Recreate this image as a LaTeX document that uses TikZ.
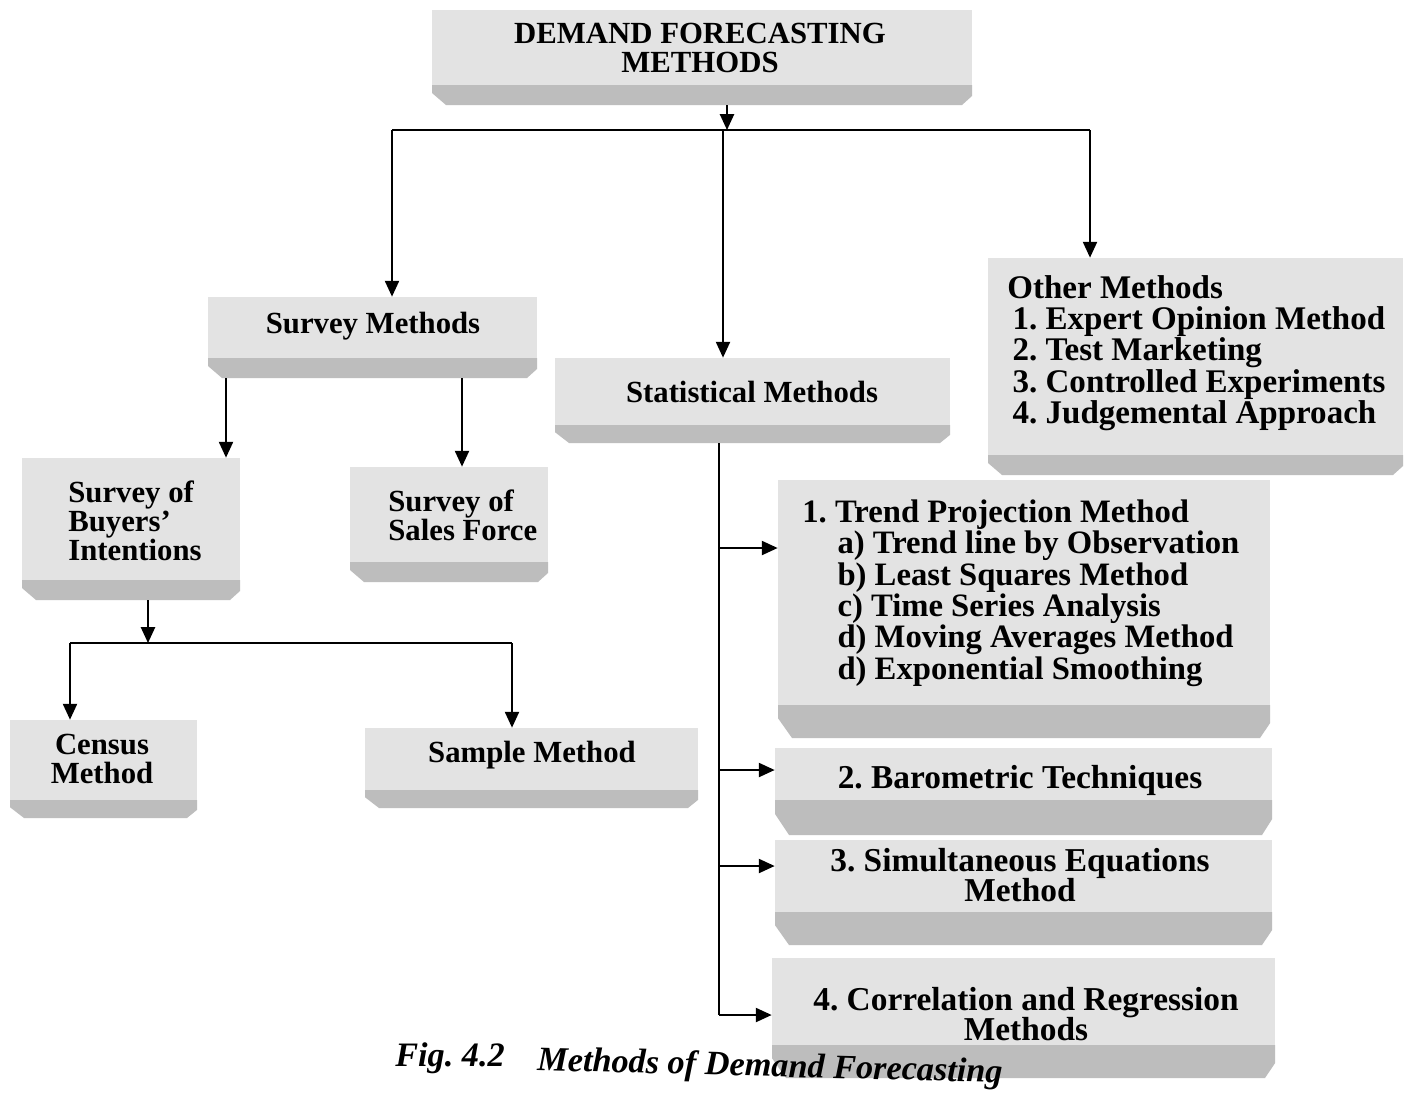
\documentclass[tikz,border=0pt]{standalone}
\usepackage{fontspec}
\setmainfont{Liberation Serif}
\usetikzlibrary{arrows.meta,fit}
\frenchspacing
\definecolor{facecol}{HTML}{E3E3E3}
\definecolor{bevelcol}{HTML}{BDBDBD}
\newcommand\fsz[2]{\fontsize{#1}{#2}\selectfont\bfseries}
% name, x1, y1, x2, y(face bottom), y(bevel bottom)
\newcommand\blockbox[6]{%
  \fill[facecol] (#2,#3) rectangle (#4,#5);
  \fill[bevelcol] (#2,#5) -- (#4,#5) -- (#4,{#5+0.55*(#6-#5)}) -- ({#4-10},#6)
     -- ({#2+14},#6) -- (#2,{#5+0.4*(#6-#5)}) -- cycle;
  \node[fit={(#2,#3) (#4,#6)}, inner sep=0pt] (#1) {};
}
\tikzset{
  ln/.style={line width=1.1pt, black},
  arr/.style={ln, -{Triangle[length=9pt,width=8pt]}},
  lab/.style={inner sep=0pt, align=center, font=\fsz{17.5}{16.5}},
  labL/.style={inner sep=0pt, align=left, anchor=west, font=\fsz{17.5}{16.5}},
  labB/.style={inner sep=0pt, align=center, font=\fsz{19}{17.5}},
}
\begin{document}
\begin{tikzpicture}[x=0.02cm,y=-0.02cm]
\useasboundingbox (0,0) rectangle (1415,1093);
\fill[white] (0,0) rectangle (1415,1093);

% boxes
\blockbox{title}{432}{10}{972}{85}{105}
\blockbox{survey}{208}{297}{537}{358}{378}
\blockbox{stat}{555}{358}{950}{425}{443}
\blockbox{other}{988}{258}{1403}{455}{475}
\blockbox{buyers}{22}{458}{240}{580}{600}
\blockbox{sales}{350}{467}{548}{562}{582}
\blockbox{census}{10}{720}{197}{800}{818}
\blockbox{sample}{365}{728}{698}{790}{808}
\blockbox{trend}{778}{480}{1270}{705}{738}
\blockbox{baro}{775}{748}{1272}{800}{835}
\blockbox{simul}{775}{840}{1272}{912}{945}
\blockbox{corr}{772}{958}{1275}{1045}{1078}

% texts
\node[lab] (tTitle) at (700,48) {DEMAND FORECASTING\\METHODS};
\node[lab] (tSurvey) at (373,326) {Survey Methods};
\node[lab] (tStat) at (752,392) {Statistical Methods};
\node[labL, font=\fsz{18.8}{17.8}] (tOther) at (1007,353) {Other Methods\\
  \hspace{3pt}1. Expert Opinion Method\\
  \hspace{3pt}2. Test Marketing\\
  \hspace{3pt}3. Controlled Experiments\\
  \hspace{3pt}4. Judgemental Approach};
\node[labL] (tBuyers) at (68,521) {Survey of\\Buyers'\\Intentions};
\node[labL] (tSales) at (388,515) {Survey of\\Sales Force};
\node[lab] (tCensus) at (102,759) {Census\\Method};
\node[lab] (tSample) at (532,755) {Sample Method};
\node[labL, font=\fsz{18.6}{17.9}] (tTrend) at (802,593) {1. Trend Projection Method\\
  \hspace{20pt}a) Trend line by Observation\\
  \hspace{20pt}b) Least Squares Method\\
  \hspace{20pt}c) Time Series Analysis\\
  \hspace{20pt}d) Moving Averages Method\\
  \hspace{20pt}d) Exponential Smoothing};
\node[labB] (tBaro) at (1020,780) {2. Barometric Techniques};
\node[labB] (tSimul) at (1020,875) {3. Simultaneous Equations\\Method};
\node[labB] (tCorr) at (1026,1014) {4. Correlation and Regression\\Methods};

% caption
\node[inner sep=0pt, font=\fontsize{19.5}{20}\selectfont\bfseries\itshape] (cap1) at (450,1058) {Fig. 4.2};
\node[inner sep=0pt, anchor=west, rotate=-1.5, font=\fontsize{19.5}{20}\selectfont\bfseries\itshape] (cap2) at (537,1062) {Methods of Demand Forecasting};

% connectors: top level
\coordinate (jL) at (392,130);
\coordinate (jM) at (727,130);
\coordinate (jR) at (1090,130);
\coordinate (jS) at (723,130);
\draw[arr] (title.south -| jM) -- (jM);
\draw[ln] (jL) -- (jR);
\draw[arr] (jL) -- (survey.north -| jL);
\draw[arr] (jS) -- (stat.north -| jS);
\draw[arr] (jR) -- (other.north -| jR);

% survey branch
\coordinate (xb) at (226,0);
\coordinate (xs) at (462,0);
\draw[arr] (survey.south -| xb) -- (buyers.north -| xb);
\draw[arr] (survey.south -| xs) -- (sales.north -| xs);

% buyers branch
\coordinate (kM) at (148,643);
\coordinate (kL) at (70,643);
\coordinate (kR) at (512,643);
\draw[arr] (buyers.south -| kM) -- (kM);
\draw[ln] (kL) -- (kR);
\draw[arr] (kL) -- (census.north -| kL);
\draw[arr] (kR) -- (sample.north -| kR);

% statistical branch
\coordinate (b1) at (719,548);
\coordinate (b2) at (719,770);
\coordinate (b3) at (719,866);
\coordinate (b4) at (719,1015);
\draw[ln] (stat.south -| b1) -- (b4);
\draw[arr] (b1) -- (trend.west |- b1);
\draw[arr] (b2) -- (baro.west |- b2);
\draw[arr] (b3) -- (simul.west |- b3);
\draw[arr] (b4) -- (corr.west |- b4);
\end{tikzpicture}
\end{document}
